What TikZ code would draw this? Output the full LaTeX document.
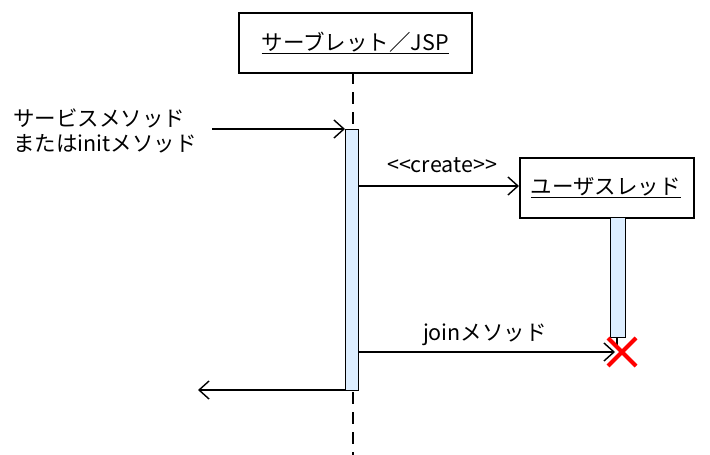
\documentclass[tikz,border=0pt]{standalone}
\usepackage{fontspec}
\setmainfont{Noto Sans CJK JP}
\usetikzlibrary{arrows.meta}
\definecolor{actfill}{HTML}{DDEEFF}
\tikzset{
  objbox/.style={draw, line width=1.6pt, fill=white, inner sep=0pt},
  actbox/.style={draw, line width=1.4pt, fill=actfill, inner sep=0pt},
  lifeline/.style={line width=1.8pt, dash pattern=on 12pt off 8pt},
  msg/.style={line width=1.4pt, -{Straight Barb[length=10pt,width=18pt,line width=1.4pt]}},
  lbl/.style={font=\fontsize{21.5}{25}\selectfont, inner sep=0pt},
}
\begin{document}
\begin{tikzpicture}[x=1pt,y=-1pt]
\useasboundingbox (0,0) rectangle (710,455);
% lifelines
\coordinate (l1top) at (353,72);
\coordinate (l1bot) at (353,455);
\draw[lifeline] (l1top) -- (l1bot);
\coordinate (l2top) at (617,217);
\coordinate (l2bot) at (617,345);
\draw[line width=1.4pt] (l2top) -- (l2bot);
% object boxes
\node[objbox, minimum width=233pt, minimum height=60pt, anchor=north west] (servlet) at (238,12) {};
\node[lbl] (servlettxt) at (servlet.center) {\underline{サーブレット／JSP}};
\node[objbox, minimum width=174pt, minimum height=60pt, anchor=north west] (uthread) at (519,157) {};
\node[lbl] (uthreadtxt) at ([xshift=-1pt]uthread.center) {\underline{ユーザスレッド}};
% activations
\node[actbox, minimum width=13pt, minimum height=261pt, anchor=north west] (act1) at (345,129) {};
\node[actbox, minimum width=15pt, minimum height=120pt, anchor=north west] (act2) at (610,217) {};
% incoming message
\coordinate (instart) at (212,129);
\draw[msg] (instart) -- (instart -| act1.west);
\node[lbl, anchor=west, align=left] (inlbl) at (13,131) {サービスメソッド\\またはinitメソッド};
% create
\draw[msg] (act1.east |- 0,186) -- (uthread.west |- 0,186);
\node[lbl] (createlbl) at (442,165) {<{}<create>{}>};
% join
\coordinate (xmark) at (622,352);
\draw[msg] (act1.east |- 0,352) -- (615,352);
\node[lbl] (joinlbl) at (485,335) {joinメソッド};
\draw[red, line width=4pt] (608,338) -- (636,366) (636,338) -- (608,366);
% return
\coordinate (retend) at (198,390);
\draw[msg] (retend -| act1.west) -- (retend);
\end{tikzpicture}
\end{document}
